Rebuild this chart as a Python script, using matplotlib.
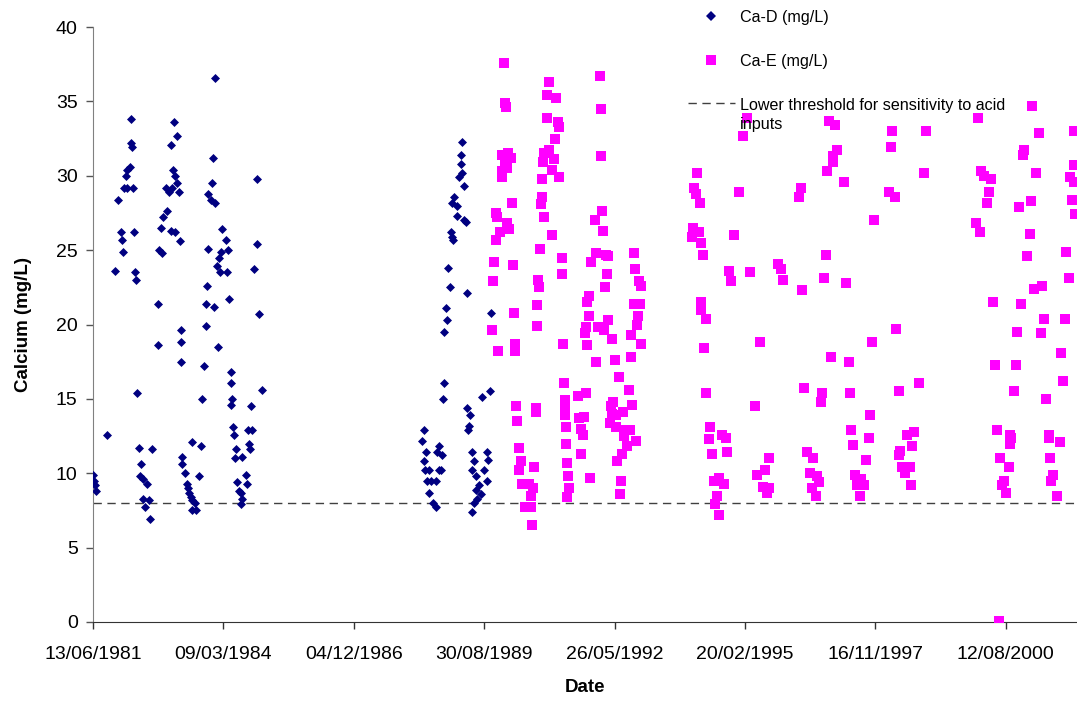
import datetime as dt
import matplotlib
matplotlib.use('Agg')
import matplotlib.pyplot as plt
import matplotlib.dates as mdates
from matplotlib.lines import Line2D
from matplotlib.legend_handler import HandlerLine2D

plt.rcParams['font.family'] = ['Liberation Sans', 'DejaVu Sans']

# sample dates as decimal years, calcium in mg/L
ca_d_year = [1981.45, 1981.47, 1981.49, 1981.51, 1981.74, 1982.25, 1982.25, 1982.27, 1982.23, 1982.16,
             1982.14, 1982.10, 1982.16, 1982.29, 1981.98, 1982.04, 1982.06, 1982.08, 1982.31, 1981.91,
             1982.33, 1982.35, 1982.37, 1982.42, 1982.46, 1982.44, 1982.50, 1982.58, 1982.50, 1982.63,
             1982.54, 1982.65, 1982.69, 1983.15, 1983.21, 1983.09, 1983.13, 1983.17, 1982.98, 1983.05,
             1983.11, 1983.21, 1983.26, 1983.00, 1982.92, 1982.88, 1983.09, 1983.17, 1983.28, 1982.84,
             1982.90, 1982.82, 1982.82, 1983.30, 1983.30, 1983.30, 1983.32, 1983.32, 1983.38, 1983.42,
             1983.45, 1983.47, 1983.51, 1983.53, 1983.59, 1983.53, 1983.61, 1983.53, 1983.72, 1983.68,
             1983.74, 1983.78, 1983.82, 1983.82, 1983.99, 1983.84, 1983.87, 1984.01, 1983.97, 1983.95,
             1983.87, 1983.93, 1984.01, 1984.16, 1984.24, 1984.29, 1984.14, 1984.10, 1984.05, 1984.12,
             1984.26, 1984.31, 1984.08, 1984.35, 1984.35, 1984.37, 1984.35, 1984.39, 1984.41, 1984.45,
             1984.43, 1984.58, 1984.47, 1984.52, 1984.56, 1984.58, 1984.56, 1984.66, 1984.68, 1984.77,
             1984.71, 1984.79, 1984.73, 1984.75, 1984.89, 1984.89, 1984.83, 1984.94, 1985.00,
             1988.40, 1988.36, 1988.44, 1988.40, 1988.42, 1988.51, 1988.46, 1988.55, 1988.51, 1988.59,
             1988.65, 1988.72, 1988.67, 1988.78, 1988.72, 1988.76, 1988.65, 1988.82, 1988.80, 1988.82,
             1988.88, 1988.86, 1988.91, 1988.95, 1989.30, 1988.97, 1989.01, 1988.99, 1989.03, 1989.09,
             1988.99, 1989.09, 1989.24, 1989.28, 1989.20, 1989.18, 1989.18, 1989.20, 1989.14, 1989.24,
             1989.30, 1989.37, 1989.35, 1989.33, 1989.62, 1989.79, 1989.41, 1989.45, 1989.41, 1989.49,
             1989.72, 1989.75, 1989.66, 1989.72, 1989.49, 1989.56, 1989.60, 1989.51, 1989.45, 1989.41,
             1989.81]
ca_d = [9.9, 9.5, 9.2, 8.8, 12.6, 33.8, 32.2, 31.9, 30.6, 30.4,
        30.0, 29.2, 29.2, 29.2, 28.4, 26.2, 25.7, 24.9, 26.2, 23.6,
        23.5, 23.0, 15.4, 11.7, 10.6, 9.8, 9.6, 9.3, 8.3, 8.2,
        7.7, 6.9, 11.6, 33.6, 32.7, 32.1, 30.4, 30.0, 29.2, 28.9,
        29.2, 29.5, 28.9, 27.6, 27.2, 26.5, 26.3, 26.2, 25.6, 25.0,
        24.8, 21.4, 18.6, 19.6, 18.8, 17.5, 11.1, 10.6, 10.0, 9.3,
        9.0, 8.7, 8.4, 8.2, 8.0, 7.5, 7.5, 12.1, 11.8, 9.8,
        15.0, 17.2, 19.9, 21.4, 21.2, 22.6, 25.1, 36.6, 31.2, 29.5,
        28.8, 28.4, 28.2, 26.4, 25.7, 25.0, 24.9, 24.5, 23.9, 23.5,
        23.5, 21.7, 18.5, 16.8, 16.1, 15.0, 14.6, 13.1, 12.6, 11.6,
        11.0, 11.1, 9.4, 8.8, 8.7, 8.3, 7.9, 9.9, 9.3, 14.5,
        12.9, 12.9, 12.0, 11.6, 29.8, 25.4, 23.7, 20.7, 15.6,
        12.9, 12.2, 11.4, 10.8, 10.2, 10.2, 9.5, 9.5, 8.7, 8.0,
        7.7, 11.8, 11.4, 11.2, 10.2, 10.2, 9.5, 16.1, 15.0, 19.5,
        20.3, 21.1, 23.8, 22.5, 22.1, 26.2, 25.7, 25.9, 28.6, 28.0,
        28.2, 27.3, 27.0, 26.9, 32.3, 31.4, 30.8, 30.2, 29.9, 29.3,
        14.4, 13.9, 13.2, 12.9, 15.1, 15.5, 11.4, 10.8, 10.2, 9.8,
        11.4, 10.9, 10.2, 9.5, 8.9, 9.2, 8.6, 8.3, 8.0, 7.4,
        20.8]

ca_e_year = [1990.08, 1990.10, 1990.12, 1990.04, 1990.17, 1990.23, 1990.10, 1990.04, 1990.14, 1990.04,
             1990.25, 1989.91, 1989.93, 1990.14, 1990.19, 1990.00, 1989.91, 1989.87, 1990.27, 1989.85,
             1990.29, 1989.83, 1989.96, 1990.31, 1990.31, 1990.33, 1990.35, 1990.40, 1990.44, 1990.40,
             1990.46, 1990.52, 1990.65, 1990.67, 1990.71, 1990.61, 1990.69, 1990.65, 1990.75, 1990.75,
             1991.03, 1990.98, 1991.17, 1990.98, 1991.22, 1991.24, 1991.15, 1991.03, 1990.92, 1991.13,
             1990.90, 1991.09, 1991.24, 1990.88, 1990.88, 1990.86, 1990.92, 1991.09, 1990.84, 1991.30,
             1991.30, 1990.80, 1990.82, 1990.77, 1990.77, 1991.32, 1991.34, 1991.36, 1991.36, 1991.36,
             1991.38, 1991.38, 1991.40, 1991.43, 1991.45, 1991.40,
             1992.10, 1992.12, 1992.12, 1992.14, 1991.99, 1992.16, 1992.01, 1991.91, 1992.22, 1992.27,
             1992.24, 1992.20, 1992.81, 1992.83, 1992.92, 1992.96, 1992.81, 1992.94, 1992.90, 1992.87,
             1992.75, 1992.96, 1992.75, 1991.87, 1991.82, 1991.87, 1991.80, 1991.78, 1991.82, 1992.06,
             1992.18, 1992.27, 1992.35, 1992.01, 1992.41, 1991.64, 1991.80, 1991.66, 1991.76, 1991.70,
             1991.74, 1991.70, 1991.89, 1992.50, 1992.37, 1992.33, 1992.35, 1992.43, 1992.58, 1992.31,
             1992.43, 1992.62, 1992.73, 1992.85, 1992.60, 1992.66, 1992.56, 1992.45, 1992.54, 1992.52,
             1992.71, 1992.77,
             1995.18, 1995.10, 1994.13, 1994.07, 1994.11, 1994.20, 1995.02, 1994.05, 1994.16, 1994.03,
             1994.22, 1994.91, 1994.26, 1994.81, 1994.85, 1995.25, 1994.22, 1994.22, 1994.32, 1994.28,
             1994.32, 1995.46, 1995.35, 1994.41, 1994.37, 1994.45, 1994.66, 1994.74, 1994.76, 1994.49,
             1994.58, 1994.70, 1994.55, 1994.51, 1994.60, 1995.65, 1995.56, 1995.39, 1995.52, 1995.65,
             1995.60, 1995.84, 1995.90, 1995.94, 1996.34, 1996.32, 1996.28, 1996.38, 1996.44, 1996.57,
             1996.51, 1996.65, 1996.70, 1996.55, 1996.63, 1996.76, 1996.74, 1996.95, 1996.91, 1997.03,
             1997.07, 1996.99, 1996.99, 1996.86, 1997.22, 1996.84, 1996.80, 1997.26, 1997.31, 1997.35,
             1997.37, 1997.41, 1997.45, 1997.58, 1997.49, 1997.64, 1997.54, 1997.77, 1997.73, 1997.68,
             1997.85, 1997.81, 1998.23, 1998.21, 1998.15, 1998.29, 1998.94, 1998.90, 1998.31, 1998.36,
             1998.78, 1998.54, 1998.69, 1998.65, 1998.40, 1998.36, 1998.44, 1998.59, 1998.50, 1998.63,
             2000.04, 2001.17, 2001.30, 2002.05, 2001.00, 2000.98, 2000.10, 2000.16, 2000.31, 2001.25,
             2002.05, 2001.95, 2002.05, 2000.27, 2000.22, 2001.15, 2000.90, 2002.01, 2002.07, 1999.99,
             2000.08, 2001.11, 2001.06, 2001.88, 2001.93, 2001.21, 2001.38, 2000.35, 2000.94, 2001.42,
             2001.86, 2000.85, 2001.34, 2001.78, 2000.39, 2000.83, 2001.82, 2000.79, 2001.46, 2000.43,
             2000.71, 2000.73, 2000.71, 2001.51, 2001.51, 2001.74, 2000.50, 2000.67, 2001.53, 2000.58,
             2000.54, 2000.62, 2001.61, 2001.57, 2001.69, 2000.48]
ca_e = [37.6, 34.9, 34.6, 31.4, 31.5, 31.2, 30.8, 30.3, 30.5, 29.9,
        28.2, 27.5, 27.2, 26.8, 26.4, 26.2, 25.7, 24.2, 24.0, 22.9,
        20.8, 19.6, 18.2, 18.7, 18.2, 14.5, 13.5, 11.7, 10.8, 10.2,
        9.3, 7.7, 7.7, 6.5, 10.4, 9.3, 9.0, 8.5, 14.4, 14.1,
        36.3, 35.4, 35.2, 33.9, 33.6, 33.3, 32.5, 31.7, 31.5, 31.1,
        30.9, 30.4, 29.9, 29.8, 28.6, 28.1, 27.2, 26.0, 25.1, 24.5,
        23.4, 23.0, 22.5, 21.3, 19.9, 18.7, 16.1, 14.9, 14.4, 13.9,
        13.1, 12.0, 10.7, 9.8, 9.0, 8.4,
        36.7, 34.5, 31.3, 27.6, 27.0, 26.3, 24.8, 24.2, 24.7, 24.6,
        23.4, 22.5, 24.8, 23.7, 22.9, 22.6, 21.4, 21.4, 20.6, 20.0,
        19.3, 18.7, 17.8, 21.9, 21.5, 20.6, 19.8, 19.4, 18.6, 19.8,
        19.6, 20.3, 19.0, 17.5, 17.6, 15.2, 15.4, 13.7, 13.8, 13.0,
        12.6, 11.3, 9.7, 16.5, 14.8, 14.5, 14.0, 13.9, 14.1, 13.4,
        13.1, 12.9, 12.9, 12.2, 12.5, 11.8, 11.3, 10.8, 9.5, 8.6,
        15.6, 14.6,
        33.9, 32.7, 30.2, 29.2, 28.8, 28.2, 28.9, 26.5, 26.2, 25.9,
        25.5, 26.0, 24.7, 23.6, 22.9, 23.5, 21.5, 21.0, 20.4, 18.4,
        15.4, 18.8, 14.5, 13.1, 12.3, 11.3, 12.6, 12.4, 11.4, 9.5,
        9.7, 9.3, 8.5, 7.9, 7.2, 11.0, 10.2, 9.9, 9.1, 9.0,
        8.7, 24.1, 23.7, 23.0, 22.3, 29.2, 28.6, 15.7, 11.4, 11.0,
        10.0, 9.8, 9.4, 9.0, 8.5, 15.4, 14.8, 17.8, 33.7, 33.4,
        31.7, 31.3, 30.9, 30.3, 29.6, 24.7, 23.1, 22.8, 17.5, 15.4,
        12.9, 11.9, 9.9, 9.6, 9.2, 9.2, 8.5, 13.9, 12.4, 10.9,
        27.0, 18.8, 33.0, 31.9, 28.9, 28.6, 33.0, 30.2, 19.7, 15.5,
        16.1, 12.6, 12.8, 11.8, 11.5, 11.2, 10.4, 10.4, 10.0, 9.2,
        33.9, 34.7, 32.9, 33.0, 31.7, 31.4, 30.3, 30.0, 29.8, 30.2,
        30.7, 29.9, 29.6, 28.9, 28.2, 28.3, 27.9, 28.4, 27.4, 26.8,
        26.2, 26.1, 24.6, 24.9, 23.1, 22.4, 22.6, 21.5, 21.4, 20.4,
        20.4, 19.5, 19.4, 18.1, 17.3, 17.3, 16.2, 15.5, 15.0, 12.9,
        12.6, 12.4, 12.0, 12.6, 12.4, 12.1, 11.0, 10.4, 11.0, 9.5,
        9.2, 8.7, 9.9, 9.5, 8.5, 0.1]

threshold = 8
start = dt.datetime(1981, 6, 13)


def to_date(y):
    yr = int(y)
    return dt.datetime(yr, 1, 1) + dt.timedelta(days=(y - yr) * 365.25)


class FirstLineHandler(HandlerLine2D):
    # put the dashed sample next to the first line of a two-line label
    def create_artists(self, legend, orig_handle, xdescent, ydescent, width, height,
                       fontsize, trans):
        return super().create_artists(legend, orig_handle, xdescent, ydescent - 18,
                                      width, height, fontsize, trans)


fig = plt.figure(figsize=(10.77, 7.01), dpi=100)
ax = fig.add_axes([93 / 1077, 79 / 701, 984 / 1077, 595 / 701])

ax.scatter([to_date(y) for y in ca_d_year], ca_d, marker='D', s=21, color='#000080',
           linewidths=0, zorder=3)
ax.scatter([to_date(y) for y in ca_e_year], ca_e, marker='s', s=45, color='#FF00FF',
           linewidths=0, zorder=3)
ax.axhline(threshold, color='#404040', lw=1, ls=(0, (6, 4)), zorder=2)

ax.set_xlim(start, start + dt.timedelta(days=7546))
ax.set_ylim(0, 40)
ax.set_xticks([start + dt.timedelta(days=1000 * k) for k in range(8)])
ax.xaxis.set_major_formatter(mdates.DateFormatter('%d/%m/%Y'))
ax.set_yticks(range(0, 41, 5))

for s in ['top', 'right']:
    ax.spines[s].set_visible(False)
ax.spines['left'].set_color('#808080')
ax.spines['bottom'].set_color('#333333')
ax.tick_params(axis='y', length=5, width=1, color='#555555', labelsize=14, pad=6)
ax.tick_params(axis='x', length=5, width=1, color='#333333', labelsize=14, pad=12)

ax.set_xlabel('Date', fontsize=13.5, fontweight='bold', labelpad=12)
ax.set_ylabel('Calcium (mg/L)', fontsize=13.5, fontweight='bold')
ax.yaxis.set_label_coords(-0.062, 0.5)

thr_handle = Line2D([], [], color='#404040', lw=1, ls=(0, (6, 4)))
handles = [
    Line2D([], [], marker='D', ls='none', color='#000080', markersize=4.6, markeredgewidth=0),
    Line2D([], [], marker='s', ls='none', color='#FF00FF', markersize=6.7, markeredgewidth=0),
    thr_handle,
]
labels = ['Ca-D (mg/L)', 'Ca-E (mg/L)', 'Lower threshold for sensitivity to acid\ninputs']
leg = fig.legend(handles, labels, loc='upper left', bbox_to_anchor=(680 / 1077, 1 - 2 / 701),
                 frameon=False, borderpad=0, handlelength=2.9, handletextpad=0.3,
                 labelspacing=1.8, fontsize=11.6,
                 handler_map={thr_handle: FirstLineHandler()})
leg.get_texts()[2].set_linespacing(1.3)

fig.savefig('out.png', dpi=100)
